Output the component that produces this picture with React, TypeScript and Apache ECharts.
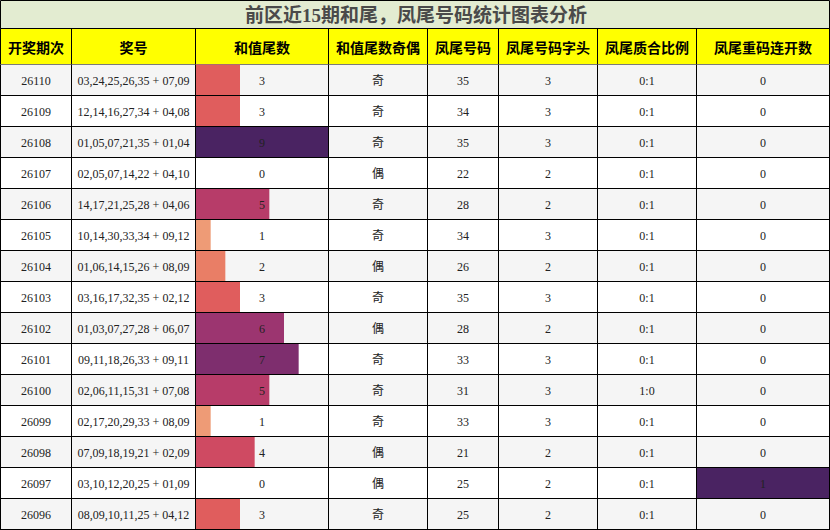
import React, { useEffect, useRef } from 'react';
import * as echarts from 'echarts';

const chartTitle = '前区近15期和尾，凤尾号码统计图表分析';
const headers = ['开奖期次', '奖号', '和值尾数', '和值尾数奇偶', '凤尾号码', '凤尾号码字头', '凤尾质合比例', '凤尾重码连开数'];

const periods = ['26110', '26109', '26108', '26107', '26106', '26105', '26104', '26103', '26102', '26101', '26100', '26099', '26098', '26097', '26096'];
const drawNumbers = [
  '03,24,25,26,35 + 07,09',
  '12,14,16,27,34 + 04,08',
  '01,05,07,21,35 + 01,04',
  '02,05,07,14,22 + 04,10',
  '14,17,21,25,28 + 04,06',
  '10,14,30,33,34 + 09,12',
  '01,06,14,15,26 + 08,09',
  '03,16,17,32,35 + 02,12',
  '01,03,07,27,28 + 06,07',
  '09,11,18,26,33 + 09,11',
  '02,06,11,15,31 + 07,08',
  '02,17,20,29,33 + 08,09',
  '07,09,18,19,21 + 02,09',
  '03,10,12,20,25 + 01,09',
  '08,09,10,11,25 + 04,12',
];
const sumTails = [3, 3, 9, 0, 5, 1, 2, 3, 6, 7, 5, 1, 4, 0, 3];
const sumTailParity = ['奇', '奇', '奇', '偶', '奇', '奇', '偶', '奇', '偶', '奇', '奇', '奇', '偶', '偶', '奇'];
const tailNumbers = [35, 34, 35, 22, 28, 34, 26, 35, 28, 33, 31, 33, 21, 25, 25];
const tailHeads = [3, 3, 3, 2, 2, 3, 2, 3, 2, 3, 3, 3, 2, 2, 2];
const primeRatios = ['0:1', '0:1', '0:1', '0:1', '0:1', '0:1', '0:1', '0:1', '0:1', '0:1', '1:0', '0:1', '0:1', '0:1', '0:1'];
const repeatCounts = [0, 0, 0, 0, 0, 0, 0, 0, 0, 0, 0, 0, 0, 1, 0];

// column edges in px, and colours
const colEdges = [0, 71, 195, 328, 427, 498, 597, 696, 829];
const tailColors = ['#ffffff', '#ee9b76', '#e97e66', '#e05d5d', '#cf4a62', '#b73c69', '#9c3570', '#7e2e6e', '#622a6b', '#4a2362'];
const repeatColor = '#4a2362';
const bodyFont = "12px 'Liberation Serif', 'Noto Sans CJK SC', serif";

const TITLE_H = 28.5;
const HEAD_BOTTOM = 64.5;

const App: React.FC = () => {
  const chartRef = useRef<HTMLDivElement>(null);

  useEffect(() => {
    const chart = echarts.init(chartRef.current!, undefined, { renderer: 'svg' });
    const rows = periods.map((p, i) => [0, i]);
    const bodyHeight = 31 * periods.length;

    const headerGraphics: any[] = [];
    headerGraphics.push({
      type: 'rect',
      shape: { x: 0.5, y: 0.5, width: 829, height: TITLE_H },
      style: { fill: '#e3ecd1', stroke: '#000', lineWidth: 1 },
    });
    headerGraphics.push({
      type: 'text',
      style: {
        text: chartTitle,
        x: 416,
        y: 15,
        align: 'center',
        verticalAlign: 'middle',
        font: "bold 19px 'Liberation Serif', 'Noto Sans CJK SC', sans-serif",
        fill: '#4a4a4a',
      },
    });
    headerGraphics.push({
      type: 'rect',
      shape: { x: 0.5, y: TITLE_H, width: 829, height: HEAD_BOTTOM - TITLE_H },
      style: { fill: '#ffff00', stroke: '#000', lineWidth: 1 },
    });
    headers.forEach((h, c) => {
      headerGraphics.push({
        type: 'text',
        style: {
          text: h,
          x: (colEdges[c] + colEdges[c + 1]) / 2 + 0.5,
          y: (TITLE_H + HEAD_BOTTOM) / 2 + 0.5,
          align: 'center',
          verticalAlign: 'middle',
          font: "bold 14px 'Noto Sans CJK SC', sans-serif",
          fill: '#000',
        },
      });
      if (c > 0) {
        headerGraphics.push({
          type: 'line',
          shape: { x1: colEdges[c] + 0.5, y1: TITLE_H, x2: colEdges[c] + 0.5, y2: HEAD_BOTTOM },
          style: { stroke: '#000', lineWidth: 1 },
        });
      }
    });

    const option = {
      animation: false,
      graphic: headerGraphics,
      grid: [
        { left: 0, top: HEAD_BOTTOM, width: 830, height: bodyHeight },
        { left: 196, top: HEAD_BOTTOM, width: 132, height: bodyHeight },
      ],
      xAxis: [
        { type: 'value', gridIndex: 0, min: 0, max: 830, show: false },
        { type: 'value', gridIndex: 1, min: 0, max: 9, show: false },
      ],
      yAxis: [
        { type: 'category', gridIndex: 0, data: periods, inverse: true, show: false },
        { type: 'category', gridIndex: 1, data: periods, inverse: true, show: false },
      ],
      series: [
        {
          type: 'custom',
          z: 1,
          silent: true,
          xAxisIndex: 0,
          yAxisIndex: 0,
          data: rows,
          encode: { x: 0, y: 1 },
          renderItem: (params: any, api: any) => {
            const i = api.value(1) as number;
            const [x0, yc] = api.coord([0, i]);
            const h = api.size([0, 1])[1];
            const top = yc - h / 2;
            const children: any[] = [
              {
                type: 'rect',
                shape: { x: x0, y: top, width: 830, height: h },
                style: { fill: i % 2 === 0 ? '#f5f5f5' : '#ffffff' },
              },
            ];
            if (repeatCounts[i] > 0) {
              const xs = api.coord([colEdges[7], i])[0];
              const xe = api.coord([colEdges[8], i])[0];
              children.push({
                type: 'rect',
                shape: { x: xs + 0.5, y: top, width: xe - xs, height: h },
                style: { fill: repeatColor },
              });
            }
            return { type: 'group', children };
          },
        },
        {
          type: 'bar',
          z: 2,
          silent: true,
          xAxisIndex: 1,
          yAxisIndex: 1,
          barWidth: '100%',
          data: sumTails.map((v) => ({ value: v, itemStyle: { color: tailColors[v] } })),
        },
        {
          type: 'custom',
          z: 3,
          silent: true,
          xAxisIndex: 0,
          yAxisIndex: 0,
          data: rows,
          encode: { x: 0, y: 1 },
          renderItem: (params: any, api: any) => {
            const i = api.value(1) as number;
            const yc = api.coord([0, i])[1];
            const h = api.size([0, 1])[1];
            const bottom = yc + h / 2;
            const cells = [
              periods[i],
              drawNumbers[i],
              String(sumTails[i]),
              sumTailParity[i],
              String(tailNumbers[i]),
              String(tailHeads[i]),
              primeRatios[i],
              String(repeatCounts[i]),
            ];
            const children: any[] = [];
            cells.forEach((t, c) => {
              const xm = api.coord([(colEdges[c] + colEdges[c + 1]) / 2, i])[0];
              children.push({
                type: 'text',
                style: {
                  text: t,
                  x: xm + 0.5,
                  y: yc + 1,
                  align: 'center',
                  verticalAlign: 'middle',
                  font: bodyFont,
                  fill: '#222',
                },
              });
            });
            colEdges.forEach((e) => {
              const x = api.coord([e, i])[0] + 0.5;
              children.push({
                type: 'line',
                shape: { x1: x, y1: bottom - h, x2: x, y2: bottom },
                style: { stroke: '#000', lineWidth: 1 },
              });
            });
            children.push({
              type: 'line',
              shape: { x1: 0, y1: bottom, x2: 830, y2: bottom },
              style: { stroke: '#000', lineWidth: 1 },
            });
            return { type: 'group', children };
          },
        },
      ],
    };

    chart.setOption(option);

    return () => {
      chart.dispose();
    };
  }, []);

  return (
    <div
      ref={chartRef}
      style={{ position: 'absolute', left: 0, top: 0, width: 830, height: 530, background: '#fff' }}
    />
  );
};

export default App;
